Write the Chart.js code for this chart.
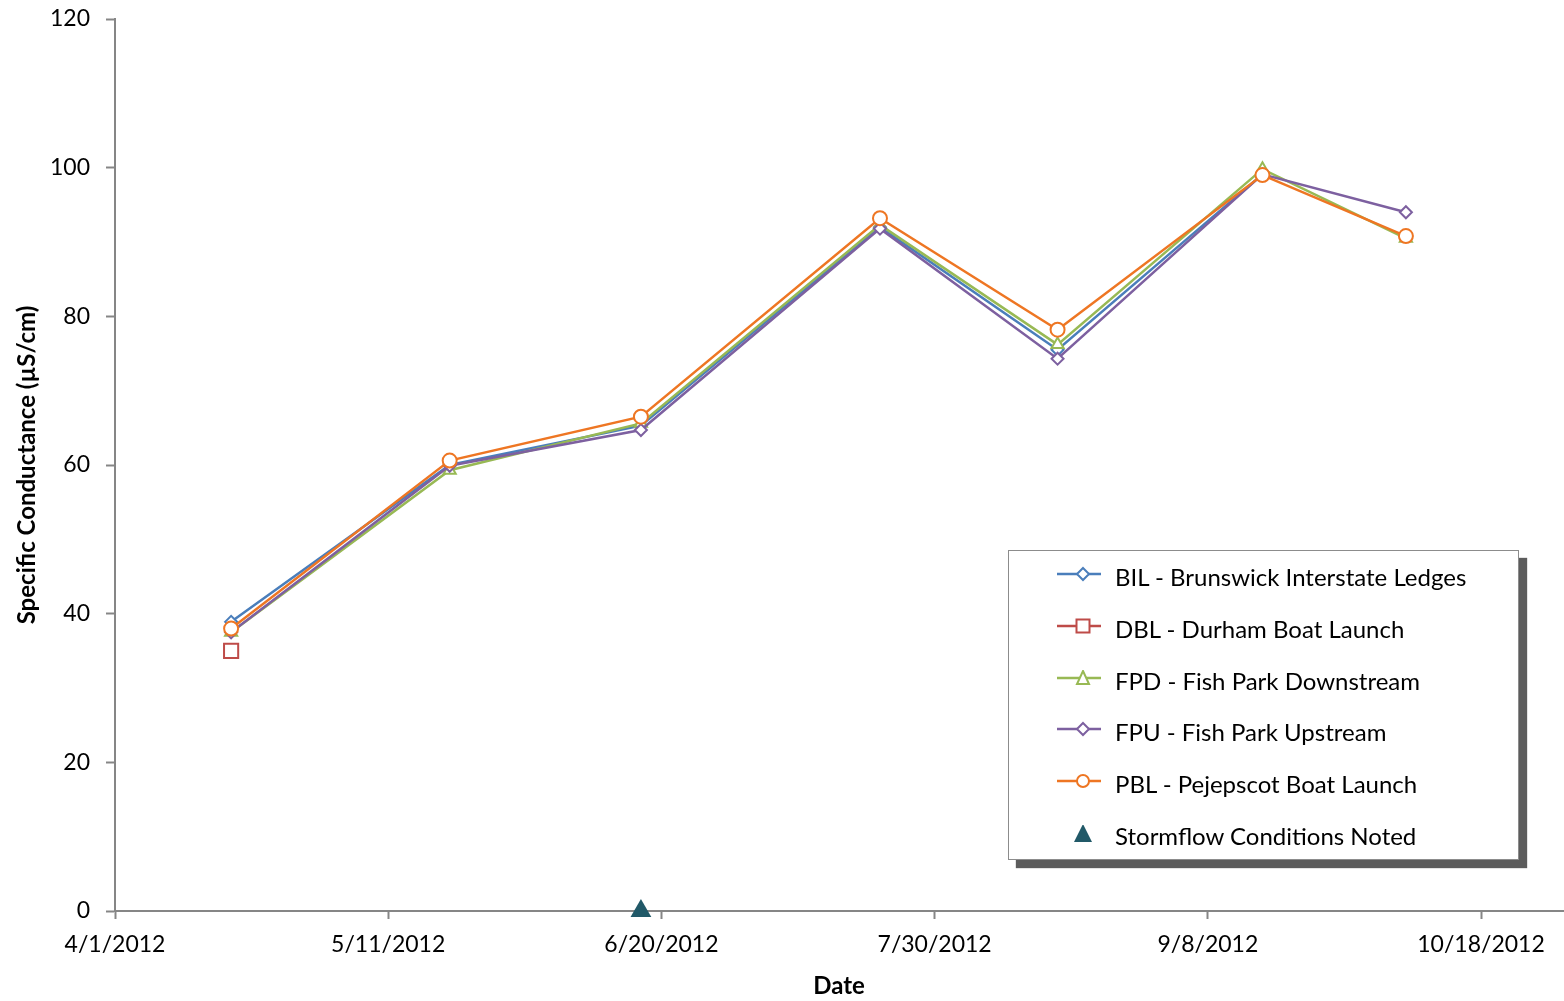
<!DOCTYPE html>
<html>
<head>
<meta charset="utf-8">
<script src="https://cdn.jsdelivr.net/npm/chart.js@4.4.1/dist/chart.umd.min.js"></script>
<style>
  html, body { margin: 0; padding: 0; background: #fff; }
  #wrap { position: relative; width: 1564px; height: 1001px; }
  #legend {
    position: absolute; left: 1008px; top: 550px; width: 509px; height: 308px;
    background: #fff; border: 1px solid #8c8c8c;
    box-shadow: 8px 8px 1px #5c5c5c;
    font-family: Lato, "Open Sans", sans-serif; font-size: 24px; color: #000;
  }
  .item { position: absolute; left: 48px; height: 30px; line-height: 30px; white-space: nowrap; }
  .item svg { position: absolute; left: 0; top: 3px; }
  .item span { position: absolute; left: 58px; top: -1px; }
</style>
</head>
<body>
<div id="wrap">
  <canvas id="chart" width="1564" height="1001"></canvas>
  <div id="legend"></div>
</div>
<script>
  // sampling dates and storm marker
  const sampleDates = ["2012-04-18", "2012-05-20", "2012-06-17", "2012-07-22", "2012-08-17", "2012-09-16", "2012-10-07"];
  const stormDates = ["2012-06-17"];
  const stormValues = [0];

  // specific conductance (uS/cm) per site
  const bil = [38.9, 60.0, 65.3, 92.0, 75.5, 99.1, null];
  const dbl = [35.0, null, null, null, null, null, null];
  const fpd = [37.5, 59.3, 65.6, 92.3, 76.2, 99.8, 90.5];
  const fpu = [37.5, 59.9, 64.7, 91.8, 74.3, 99.1, 94.0];
  const pbl = [38.0, 60.6, 66.5, 93.2, 78.2, 99.0, 90.8];

  const yTicks = [0, 20, 40, 60, 80, 100, 120];
  const startDate = "2012-04-01"; // x axis origin
  const xMaxDays = 212;
  const xStepDays = 40;

  const DAY = 86400000;
  function dayNum(s) {
    return Math.round((Date.parse(s) - Date.parse(startDate)) / DAY);
  }
  function dayLabel(d) {
    const dt = new Date(Date.parse(startDate) + d * DAY);
    return (dt.getUTCMonth() + 1) + "/" + dt.getUTCDate() + "/" + dt.getUTCFullYear();
  }
  function pts(vals) {
    return vals.map((v, i) => ({ x: dayNum(sampleDates[i]), y: v }));
  }

  const series = [
    { label: "BIL - Brunswick Interstate Ledges", data: bil, color: "#4a7ebb", style: "rectRot", r: 6 },
    { label: "DBL - Durham Boat Launch", data: dbl, color: "#be4b48", style: "rect", r: 10 },
    { label: "FPD - Fish Park Downstream", data: fpd, color: "#98b954", style: "triangle", r: 7 },
    { label: "FPU - Fish Park Upstream", data: fpu, color: "#7d60a0", style: "rectRot", r: 6 },
    { label: "PBL - Pejepscot Boat Launch", data: pbl, color: "#ee7623", style: "circle", r: 7 },
  ];
  const stormColor = "#215968";

  const datasets = series.map((s, i) => ({
    label: s.label,
    data: pts(s.data),
    borderColor: s.color,
    backgroundColor: "#fff",
    borderWidth: 2.5,
    pointStyle: s.style,
    pointRadius: s.r,
    pointBorderWidth: 2,
    pointBackgroundColor: "#fff",
    pointBorderColor: s.color,
    showLine: true,
    spanGaps: false,
    clip: false,
    order: 10 - i // later series drawn on top, like excel
  }));
  datasets.push({
    label: "Stormflow Conditions Noted",
    data: stormDates.map((d, i) => ({ x: dayNum(d), y: stormValues[i] })),
    showLine: false,
    pointStyle: "triangle",
    pointRadius: 12,
    pointBorderWidth: 0,
    pointBackgroundColor: stormColor,
    pointBorderColor: stormColor,
    clip: false,
    order: 0
  });

  const axisGray = "#868686";
  const tickFont = { family: "Lato", size: 23 };
  const titleFont = { family: "Lato", size: 24, weight: "bold" };

  new Chart(document.getElementById("chart"), {
    type: "scatter",
    data: { datasets: datasets },
    options: {
      responsive: false,
      animation: false,
      layout: { autoPadding: false, padding: { top: 19, right: 1, left: 0, bottom: 0 } },
      plugins: { legend: { display: false }, tooltip: { enabled: false } },
      scales: {
        x: {
          type: "linear",
          min: 0,
          max: xMaxDays,
          afterBuildTicks: (scale) => {
            scale.ticks = [];
            for (let d = 0; d <= xMaxDays; d += xStepDays) scale.ticks.push({ value: d });
          },
          afterFit: (scale) => {
            scale.height = 90;
            scale.paddingLeft = 0;
            scale.paddingRight = 0;
          },
          ticks: {
            callback: (v) => dayLabel(v),
            color: "#000",
            font: tickFont,
            padding: 12,
            maxRotation: 0,
            autoSkip: false
          },
          grid: { drawOnChartArea: false, drawTicks: true, tickLength: 8, tickColor: axisGray, tickWidth: 2 },
          border: { color: axisGray, width: 2 },
          title: { display: true, text: "Date", color: "#000", font: titleFont, padding: { top: 4, bottom: 0 } }
        },
        y: {
          min: 0,
          max: 120,
          afterBuildTicks: (scale) => { scale.ticks = yTicks.map((v) => ({ value: v })); },
          afterFit: (scale) => {
            scale.width = 115;
            scale.paddingTop = 0;
            scale.paddingBottom = 0;
          },
          ticks: { color: "#000", font: tickFont, padding: 16 },
          grid: { drawOnChartArea: false, drawTicks: true, tickLength: 9, tickColor: axisGray, tickWidth: 2 },
          border: { color: axisGray, width: 2 },
          title: { display: true, text: "Specific Conductance (µS/cm)", color: "#000", font: titleFont, padding: 13 }
        }
      }
    }
  });

  // legend box drawn in html so the text stays text
  const legend = document.getElementById("legend");
  function icon(style, color) {
    let m = "";
    if (style === "rectRot") m = `<polygon points="26,2 32,8 26,14 20,8" fill="#fff" stroke="${color}" stroke-width="2"/>`;
    if (style === "rect") m = `<rect x="19.5" y="1.5" width="13" height="13" fill="#fff" stroke="${color}" stroke-width="2"/>`;
    if (style === "triangle") m = `<polygon points="26,1 32,14 20,14" fill="#fff" stroke="${color}" stroke-width="2"/>`;
    if (style === "circle") m = `<circle cx="26" cy="8" r="6" fill="#fff" stroke="${color}" stroke-width="2"/>`;
    return `<svg width="52" height="24"><line x1="0" y1="8" x2="44" y2="8" stroke="${color}" stroke-width="2.5"/>${m}</svg>`;
  }
  const rows = series.map((s) => [icon(s.style, s.color), s.label]);
  rows.push([`<svg width="52" height="24"><polygon points="26,-1 35,17 17,17" fill="${stormColor}"/></svg>`, "Stormflow Conditions Noted"]);
  rows.forEach((r, i) => {
    const div = document.createElement("div");
    div.className = "item";
    div.style.top = (12 + i * 51.8) + "px";
    div.innerHTML = r[0] + "<span>" + r[1] + "</span>";
    legend.appendChild(div);
  });
</script>
</body>
</html>
